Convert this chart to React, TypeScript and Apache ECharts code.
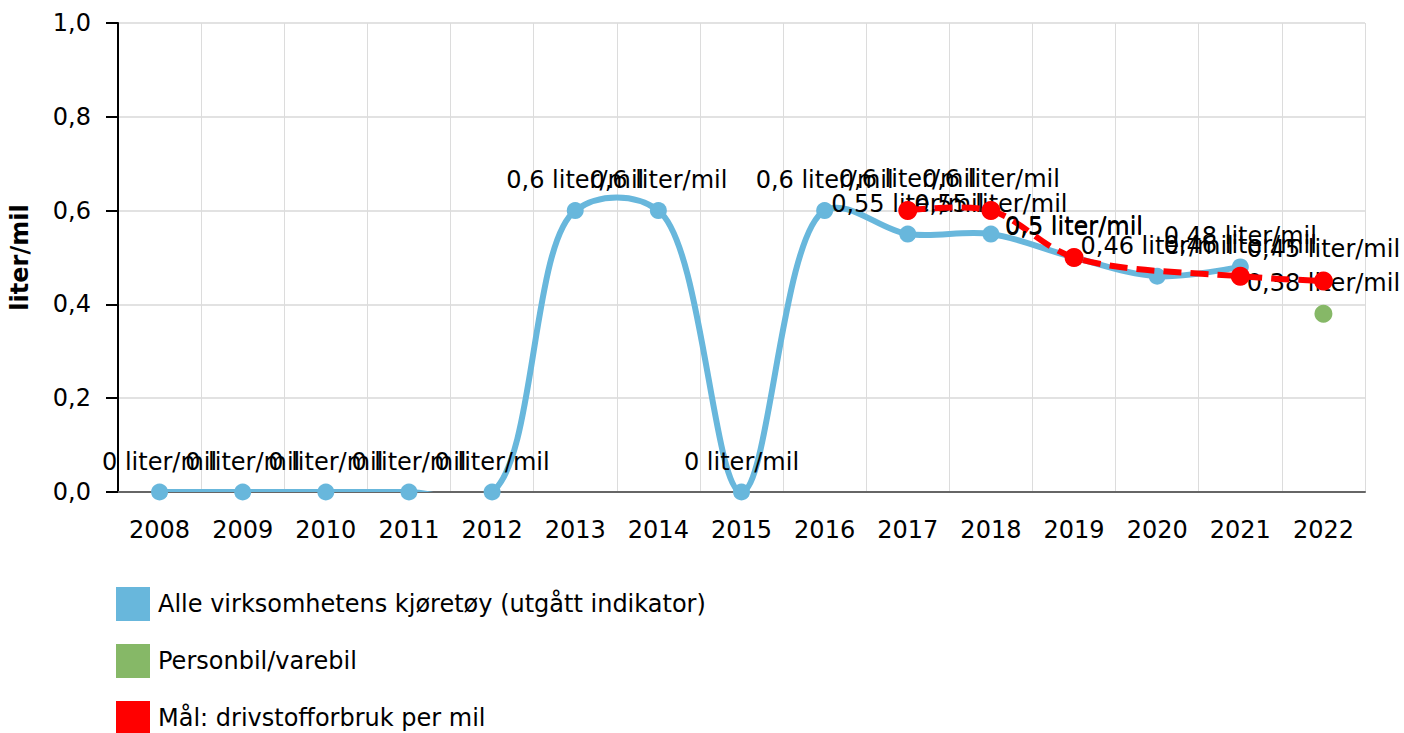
import React, { useEffect, useRef } from "react";
import * as echarts from "echarts";

const years = ["2008","2009","2010","2011","2012","2013","2014","2015","2016","2017","2018","2019","2020","2021","2022"];
const alleValues: (number | null)[] = [0, 0, 0, 0, 0, 0.6, 0.6, 0, 0.6, 0.55, 0.55, 0.5, 0.46, 0.48, null];
const personbilValues: (number | null)[] = [null, null, null, null, null, null, null, null, null, null, null, null, null, null, 0.38];
const malValues: (number | null)[] = [null, null, null, null, null, null, null, null, null, 0.6, 0.6, 0.5, null, 0.46, 0.45];

const NAME_ALLE = "Alle virksomhetens kjøretøy (utgått indikator)";
const NAME_PERSON = "Personbil/varebil";
const NAME_MAL = "Mål: drivstofforbruk per mil";

const BLUE = "#68b7dc";
const GREEN = "#86b867";
const RED = "#ff0000";
const FONT = "DejaVu Sans";
const FS = 24;

const fmtComma = (v: number) => String(v).replace(".", ",");

// centripetal Catmull-Rom (alpha 0.5) path through pixel points
function catmullRomPath(pts: number[][]): string {
  if (pts.length === 0) return "";
  let d = `M${pts[0][0]},${pts[0][1]}`;
  const eps = 1e-9;
  for (let i = 0; i < pts.length - 1; i++) {
    const p0 = pts[i - 1] || pts[i];
    const p1 = pts[i];
    const p2 = pts[i + 1];
    const p3 = pts[i + 2] || pts[i + 1];
    const l01 = Math.hypot(p1[0] - p0[0], p1[1] - p0[1]);
    const l12 = Math.hypot(p2[0] - p1[0], p2[1] - p1[1]);
    const l23 = Math.hypot(p3[0] - p2[0], p3[1] - p2[1]);
    const l01a = Math.sqrt(l01), l12a = Math.sqrt(l12), l23a = Math.sqrt(l23);
    let c1x = p1[0], c1y = p1[1], c2x = p2[0], c2y = p2[1];
    if (l01a > eps) {
      const a = 2 * l01 + 3 * l01a * l12a + l12;
      const n = 3 * l01a * (l01a + l12a);
      c1x = (p1[0] * a - p0[0] * l12 + p2[0] * l01) / n;
      c1y = (p1[1] * a - p0[1] * l12 + p2[1] * l01) / n;
    }
    if (l23a > eps) {
      const b = 2 * l23 + 3 * l23a * l12a + l12;
      const m = 3 * l23a * (l23a + l12a);
      c2x = (p2[0] * b + p1[0] * l23 - p3[0] * l12) / m;
      c2y = (p2[1] * b + p1[1] * l23 - p3[1] * l12) / m;
    }
    d += ` C${c1x},${c1y} ${c2x},${c2y} ${p2[0]},${p2[1]}`;
  }
  return d;
}

function splineSeries(id: string, values: (number | null)[], color: string, dash: number[] | null, z: number) {
  return {
    id,
    name: id,
    type: "custom",
    z,
    silent: true,
    data: [[0, 0]],
    encode: { x: 0, y: 1 },
    renderItem: (params: any, api: any) => {
      const pts: number[][] = [];
      values.forEach((v, i) => {
        if (v !== null && v !== undefined) pts.push(api.coord([i, v]));
      });
      const cs = params.coordSys;
      return {
        type: "path",
        shape: { pathData: catmullRomPath(pts) },
        style: {
          fill: "none",
          stroke: color,
          lineWidth: 6,
          lineDash: dash || undefined,
          lineJoin: "round",
          lineCap: dash ? "butt" : "round",
        },
        clipPath: { type: "rect", shape: { x: cs.x, y: cs.y, width: cs.width, height: cs.height } },
      };
    },
  };
}

export default function App() {
  const ref = useRef<HTMLDivElement>(null);
  useEffect(() => {
    if (!ref.current) return;
    const chart = echarts.init(ref.current, null, { renderer: "svg" });
    const label = {
      show: true,
      position: "top" as const,
      distance: 10,
      fontFamily: FONT,
      fontSize: FS,
      color: "#000",
      formatter: (p: any) => fmtComma(p.value) + " liter/mil",
    };
    chart.setOption({
      animation: false,
      textStyle: { fontFamily: FONT },
      grid: { left: 117, right: 39, top: 23, bottom: 241, containLabel: false },
      legend: {
        orient: "vertical",
        left: 116,
        top: 587,
        height: 200,
        padding: 0,
        itemWidth: 34,
        itemHeight: 34,
        itemGap: 23,
        icon: "rect",
        itemStyle: { borderWidth: 0 },
        textStyle: { fontFamily: FONT, fontSize: FS, color: "#000", padding: [0, 0, 0, 3] },
        data: [NAME_ALLE, NAME_PERSON, NAME_MAL],
      },
      xAxis: {
        type: "category",
        data: years,
        boundaryGap: true,
        axisLine: { lineStyle: { color: "#666", width: 2 } },
        axisTick: { alignWithLabel: true, length: 9, lineStyle: { color: "#666", width: 1.5 } },
        axisLabel: { fontFamily: FONT, fontSize: FS, color: "#000", margin: 26 },
        splitLine: { show: true, lineStyle: { color: "#dcdcdc", width: 1 } },
      },
      yAxis: {
        type: "value",
        min: 0,
        max: 1,
        interval: 0.2,
        name: "liter/mil",
        nameLocation: "middle",
        nameRotate: 90,
        nameGap: 86,
        nameTextStyle: { fontFamily: FONT, fontSize: FS, fontWeight: "bold", color: "#000" },
        axisLine: { show: true, lineStyle: { color: "#000", width: 2 } },
        axisTick: { show: true, length: 12, lineStyle: { color: "#000", width: 2 } },
        axisLabel: {
          fontFamily: FONT,
          fontSize: FS,
          color: "#000",
          margin: 27,
          formatter: (v: number) => v.toFixed(1).replace(".", ","),
        },
        splitLine: { show: true, lineStyle: { color: "#d8d8d8", width: 1.5 } },
      },
      series: [
        splineSeries("alleLine", alleValues, BLUE, null, 2),
        {
          name: NAME_ALLE,
          type: "line",
          data: alleValues,
          color: BLUE,
          symbol: "circle",
          symbolSize: 17,
          lineStyle: { width: 0, opacity: 0 },
          itemStyle: { color: BLUE },
          label,
          z: 3,
        },
        {
          name: NAME_PERSON,
          type: "line",
          data: personbilValues,
          color: GREEN,
          symbol: "circle",
          symbolSize: 18,
          lineStyle: { width: 0, opacity: 0 },
          itemStyle: { color: GREEN },
          label,
          z: 3,
        },
        splineSeries("malLine", malValues, RED, [18, 9], 4),
        {
          name: NAME_MAL,
          type: "line",
          data: malValues,
          connectNulls: true,
          color: RED,
          symbol: "circle",
          symbolSize: 19,
          lineStyle: { width: 0, opacity: 0 },
          itemStyle: { color: RED },
          label,
          z: 5,
        },
      ],
    });
    return () => chart.dispose();
  }, []);
  return (
    <div
      ref={ref}
      style={{ position: "absolute", left: 0, top: 0, width: 1404, height: 733, background: "#fff" }}
    />
  );
}
